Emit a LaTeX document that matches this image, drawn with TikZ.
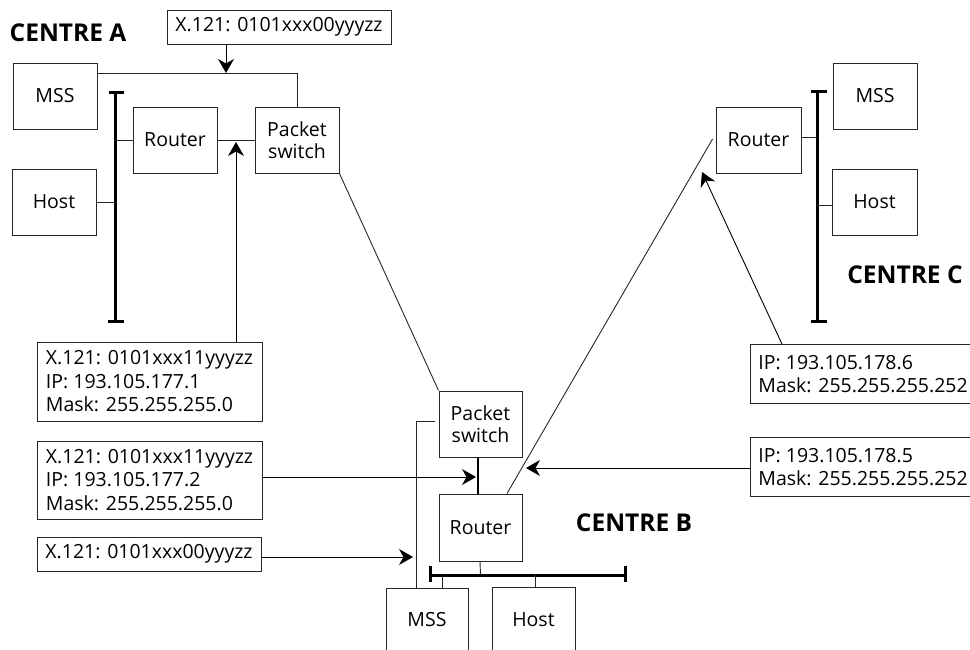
\documentclass[tikz,border=0pt]{standalone}
\usepackage{fontspec}
\setmainfont{Open Sans}
\usetikzlibrary{arrows.meta}
\newcommand\lblfont{\fontsize{19.5}{23.5}\selectfont}
\newcommand\ctrfont{\fontsize{24.5}{28}\selectfont\bfseries}
\begin{document}
\begin{tikzpicture}[x=1pt,y=-1pt,
  box/.style={draw=black!85, line width=0.9pt, minimum width=84pt, minimum height=66pt, inner sep=0pt, font=\lblfont, align=center},
  lab/.style={draw=black!85, line width=0.9pt, align=flush left, inner xsep=8pt, inner ysep=3pt, font=\lblfont},
  wire/.style={draw=black!85, line width=0.9pt},
  bus/.style={draw=black, line width=3pt},
  arr/.style={draw=black, line width=0.9pt, -{Stealth[length=14pt,width=16pt,inset=4.5pt,fill=black]}},
  ctr/.style={font=\ctrfont, inner sep=0pt}]
\useasboundingbox (0,0) rectangle (970,650);

% ---------- Centre A ----------
\node[ctr] (cA) at (68,33) {CENTRE A};
\node[box, minimum width=224pt, minimum height=34pt] (top) at (279,27) {X.121: 0101xxx00yyyzz};
\node[box] (mssA) at (55,96) {MSS};
\node[box] (rA) at (175,140) {Router};
\node[box] (psA) at (297,140) {Packet\\[-2pt]switch};
\node[box] (hA) at (54,202) {Host};
\coordinate (jA) at (226,73);
\coordinate (busAt) at (115,93);
\coordinate (busAb) at (115,321);
\draw[bus] (busAt) -- (busAb);
\draw[bus] ([xshift=-6pt]busAt) -- ([xshift=9pt]busAt);
\draw[bus] ([xshift=-7pt]busAb) -- ([xshift=9pt]busAb);
\draw[arr] (top.south -| jA) -- (jA);
\draw[wire] (mssA.east |- jA) -| (psA.north);
\draw[wire] (rA.west) -- (rA.west -| busAt);
\draw[wire] (rA.east) -- (psA.west);
\draw[wire] (hA.east) -- (hA.east -| busAt);

\node[lab, minimum width=225pt, minimum height=79pt] (l1) at (149.5,381.5) {X.121: 0101xxx11yyyzz\\IP: 193.105.177.1\\Mask: 255.255.255.0};
\coordinate (t1) at (236,142);
\draw[arr] (l1.north -| t1) -- (t1);

% ---------- Centre B ----------
\node[ctr] (cB) at (634,523) {CENTRE B};
\node[box, minimum width=83pt] (psB) at (480.5,424) {Packet\\[-2pt]switch};
\node[box, minimum width=83pt, minimum height=67pt] (rB) at (480.5,527.5) {Router};
\node[box, minimum width=82pt, minimum height=64pt] (mssB) at (427,620) {MSS};
\node[box, minimum width=83pt, minimum height=65pt] (hB) at (533.5,619.5) {Host};
\draw[wire] (psA.south east) -- (psB.north west);
\coordinate (psBl) at (435,421);
\coordinate (mssBt) at (416,588);
\draw[wire] (psBl) -| (mssBt);
\draw[draw=black, line width=1.7pt] (psB.south -| 478,0) -- (rB.north -| 478,0);
\coordinate (busBl) at (430,575);
\coordinate (busBr) at (625,575);
\draw[bus] (busBl) -- (busBr);
\draw[bus] ([yshift=9pt]busBl) -- ([yshift=-7pt]busBl);
\draw[bus] ([yshift=9pt]busBr) -- ([yshift=-7pt]busBr);
\draw[wire] (rB.south -| 480,0) -- (rB.south |- busBl);
\draw[wire] (mssB.north -| 442,0) -- (busBl -| 442,0);
\draw[wire] (hB.north -| 535,0) -- (busBl -| 535,0);

\node[lab, minimum width=225pt, minimum height=78pt] (l2) at (149.5,480) {X.121: 0101xxx11yyyzz\\IP: 193.105.177.2\\Mask: 255.255.255.0};
\node[lab, minimum width=224pt, minimum height=34pt] (l3) at (149,554) {X.121: 0101xxx00yyyzz};
\coordinate (t2) at (476,477);
\coordinate (t3) at (413,557);
\draw[arr] (l2.east |- t2) -- (t2);
\draw[arr] (l3.east |- t3) -- (t3);

% ---------- Centre C ----------
\node[ctr] (cC) at (905,275) {CENTRE C};
\node[box, minimum width=85pt] (rC) at (758.5,140) {Router};
\node[box] (mssC) at (875,96) {MSS};
\node[box, minimum width=85pt] (hC) at (874.5,202) {Host};
\coordinate (busCt) at (817,92);
\coordinate (busCb) at (817,321);
\draw[bus] (busCt) -- (busCb);
\draw[bus] ([xshift=-6pt]busCt) -- ([xshift=10pt]busCt);
\draw[bus] ([xshift=-6pt]busCb) -- ([xshift=10pt]busCb);
\draw[wire] ([yshift=3pt]rC.east) -- ([yshift=3pt]rC.east -| busCt);
\draw[wire] ([yshift=-3pt]hC.west) -- ([yshift=-3pt]hC.west -| busCt);
\draw[wire] (rB.north -| 507,0) -- ([xshift=-3pt,yshift=1pt]rC.west);

\node[lab, anchor=north west, text width=214pt, minimum height=59pt] (lC) at (750,344) {IP: 193.105.178.6\\Mask: 255.255.255.252};
\node[lab, anchor=north west, text width=214pt, minimum height=59pt] (lB) at (750,437) {IP: 193.105.178.5\\Mask: 255.255.255.252};
\coordinate (tC) at (702,172);
\coordinate (tB) at (526,468);
\draw[arr] ([xshift=32pt]lC.north west) -- (tC);
\draw[arr] (lB.west |- tB) -- (tB);
\end{tikzpicture}
\end{document}
